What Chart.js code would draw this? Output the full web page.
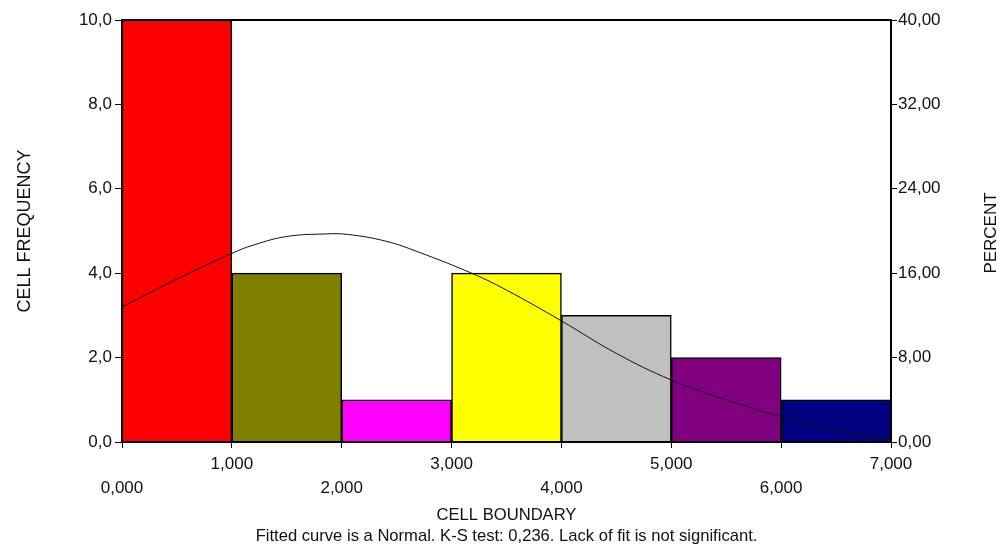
<!DOCTYPE html>
<html><head><meta charset="utf-8">
<script src="https://cdn.jsdelivr.net/npm/chart.js@4/dist/chart.umd.min.js"></script>
<style>html,body{margin:0;padding:0;background:#fff}#wrap{width:1005px;height:548px;position:relative}</style>
</head><body><div id="wrap"><canvas id="c"></canvas></div>
<script>
// ---- data ----
const binCenters = [0.5, 1.5, 2.5, 3.5, 4.5, 5.5, 6.5];
const cellFrequency = [10, 4, 1, 4, 3, 2, 1];
const curveX = [0, 0.5, 1.0, 1.2, 1.5, 1.85, 2.05, 2.4, 2.7, 3.2, 3.5, 4.0, 4.5, 5.0, 5.5, 6.0, 6.5, 7.0];
const curveY = [3.20, 3.86, 4.47, 4.67, 4.87, 4.93, 4.92, 4.76, 4.50, 3.98, 3.60, 2.87, 2.10, 1.47, 1.00, 0.60, 0.28, 0.09];
const xTickValues = [0, 1, 2, 3, 4, 5, 6, 7];
const freqTicks = [0, 2, 4, 6, 8, 10];
const percentTicks = [0, 8, 16, 24, 32, 40];
const xTitle = 'CELL BOUNDARY';
const footerText = 'Fitted curve is a Normal. K-S test: 0,236. Lack of fit is not significant.';
const yTitle = 'CELL FREQUENCY';
const y2Title = 'PERCENT';

// ---- styles ----
const barColors = ['#FF0000', '#808000', '#FF00FF', '#FFFF00', '#C0C0C0', '#800080', '#000080'];
const FONT = 'Liberation Sans, Arial, sans-serif';

const frame = {
  id: 'frame',
  afterDatasetsDraw(chart) {
    const a = chart.chartArea, ctx = chart.ctx;
    ctx.save();
    ctx.strokeStyle = '#000';
    ctx.lineWidth = 2;
    ctx.strokeRect(a.left, a.top, a.right - a.left, a.bottom - a.top);
    // right axis title, reading bottom-to-top
    ctx.fillStyle = '#111';
    ctx.font = '17px ' + FONT;
    ctx.textAlign = 'center';
    ctx.textBaseline = 'middle';
    ctx.translate(chart.width - 14, (a.top + a.bottom) / 2 + 2);
    ctx.rotate(-Math.PI / 2);
    ctx.fillText(y2Title, 0, 0);
    ctx.restore();
  }
};

new Chart(document.getElementById('c'), {
  type: 'bar',
  data: {
    datasets: [
      {
        type: 'line',
        data: curveX.map((x, i) => ({x: x, y: curveY[i]})),
        borderColor: '#111',
        borderWidth: 1,
        pointRadius: 0,
        tension: 0.4,
        fill: false,
        xAxisID: 'x', yAxisID: 'y',
        order: 0
      },
      {
        type: 'bar',
        data: binCenters.map((x, i) => ({x: x, y: cellFrequency[i]})),
        backgroundColor: barColors,
        borderColor: '#000',
        borderWidth: 1.5,
        barPercentage: 1,
        categoryPercentage: 1,
        xAxisID: 'x', yAxisID: 'y',
        order: 1
      }
    ]
  },
  options: {
    responsive: true,
    maintainAspectRatio: false,
    animation: false,
    layout: {padding: {top: 20, left: 0, right: 0, bottom: 0}},
    plugins: {legend: {display: false}, tooltip: {enabled: false}},
    scales: {
      x: {
        type: 'linear', position: 'bottom', min: 0, max: 7, offset: false,
        afterBuildTicks: s => { s.ticks = xTickValues.map(v => ({value: v})); },
        afterFit: s => { s.height = 106; },
        grid: {drawOnChartArea: false, drawTicks: true, tickLength: 6, color: '#000', tickWidth: 1, offset: false},
        border: {display: true, color: '#000', width: 2},
        ticks: {
          color: '#111', padding: 5, maxRotation: 0, autoSkip: false,
          font: {family: FONT, size: 17, lineHeight: 1.37},
          callback: v => {
            const s = Number(v).toFixed(3).replace('.', ',');
            return (Math.round(v) % 2 === 0) ? ['', s] : s;
          }
        },
        title: {
          display: true, text: [xTitle, footerText], color: '#111',
          font: {family: FONT, size: 16.6, lineHeight: 1.27},
          padding: {top: 0, bottom: 1}
        }
      },
      y: {
        type: 'linear', position: 'left', min: 0, max: 10,
        afterBuildTicks: s => { s.ticks = freqTicks.map(v => ({value: v})); },
        afterFit: s => { s.width = 122; },
        grid: {drawOnChartArea: false, drawTicks: true, tickLength: 7, color: '#000', offset: false},
        border: {display: true, color: '#000', width: 2},
        ticks: {
          color: '#111', padding: 3,
          font: {family: FONT, size: 17},
          callback: v => Number(v).toFixed(1).replace('.', ',')
        },
        title: {
          display: true, text: yTitle, color: '#111',
          font: {family: FONT, size: 18, lineHeight: 1.2},
          padding: {top: 14, bottom: 0}
        }
      },
      y2: {
        type: 'linear', position: 'right', min: 0, max: 40,
        afterBuildTicks: s => { s.ticks = percentTicks.map(v => ({value: v})); },
        afterFit: s => { s.width = 114; },
        grid: {drawOnChartArea: false, drawTicks: true, tickLength: 6, color: '#000', offset: false},
        border: {display: true, color: '#000', width: 2},
        ticks: {
          color: '#111', padding: 1,
          font: {family: FONT, size: 17},
          callback: v => Number(v).toFixed(2).replace('.', ',')
        },
        title: {display: false}
      }
    }
  },
  plugins: [frame]
});
</script>
</body></html>
